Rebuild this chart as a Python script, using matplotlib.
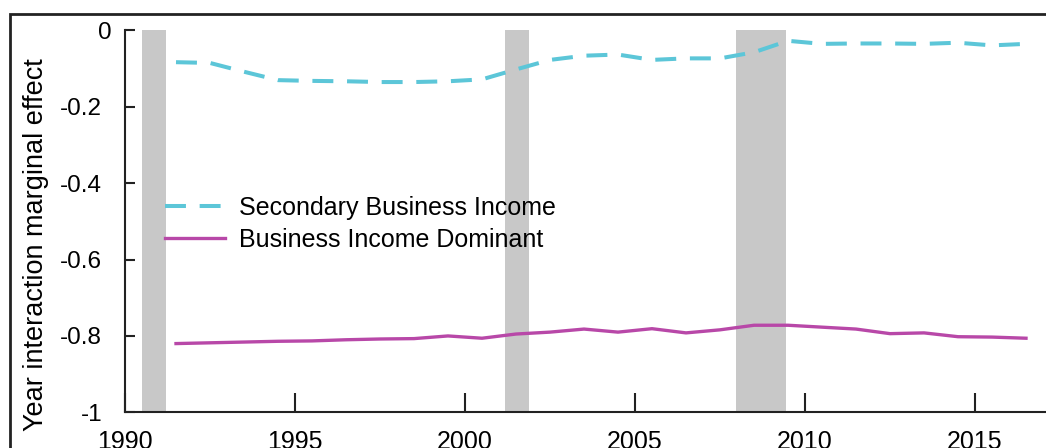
import numpy as np
import matplotlib
matplotlib.use("Agg")
import matplotlib.pyplot as plt
from matplotlib.patches import Rectangle
from matplotlib.transforms import ScaledTranslation

plt.rcParams['font.family'] = ['Liberation Sans', 'DejaVu Sans']

# annual estimates, plotted at mid-year
years = np.array([1991, 1992, 1993, 1994, 1995, 1996, 1997, 1998, 1999,
                  2000, 2001, 2002, 2003, 2004, 2005, 2006, 2007, 2008,
                  2009, 2010, 2011, 2012, 2013, 2014, 2015, 2016])

secondary = [-0.083, -0.085, -0.108, -0.130, -0.132, -0.133, -0.135, -0.135,
             -0.133, -0.128, -0.102, -0.077, -0.066, -0.063, -0.077, -0.073,
             -0.073, -0.057, -0.027, -0.035, -0.034, -0.034, -0.035, -0.032,
             -0.039, -0.035]

dominant = [-0.820, -0.818, -0.816, -0.814, -0.813, -0.810, -0.808, -0.807,
            -0.800, -0.806, -0.795, -0.790, -0.782, -0.790, -0.781, -0.792,
            -0.784, -0.772, -0.772, -0.777, -0.782, -0.794, -0.792, -0.802,
            -0.803, -0.806]

# recessions (fractional years)
rec_start = [1990.5, 2001.17, 2007.96]
rec_end = [1991.22, 2001.88, 2009.45]

yticks = [-1, -0.8, -0.6, -0.4, -0.2, 0]
ytick_labels = ['-1', '-0.8', '-0.6', '-0.4', '-0.2', '0']
xticks = [1990, 1995, 2000, 2005, 2010, 2015]

W, H = 1046, 448
fig = plt.figure(figsize=(W / 100, H / 100), dpi=100)
ax = fig.add_axes([125 / W, 35.7 / H, (W - 125) / W, 381.8 / H])

for s, e in zip(rec_start, rec_end):
    ax.axvspan(s, e, ymin=0, ymax=1, color='#c8c8c8', lw=0, zorder=1)

ax.plot(years + 0.5, secondary, color='#5cc6d8', lw=2.9,
        linestyle=(0, (5.2, 3.4)), label='Secondary Business Income', zorder=3)
ax.plot(years + 0.5, dominant, color='#b848a8', lw=2.4,
        label='Business Income Dominant', zorder=3)

ax.set_xlim(1990, 1990 + (W - 125) / 34)
ax.set_ylim(-1, 0)
ax.set_xticks(xticks)
ax.set_yticks(yticks)
ax.set_yticklabels(ytick_labels)

for side in ['top', 'right']:
    ax.spines[side].set_visible(False)
for side in ['left', 'bottom']:
    ax.spines[side].set_linewidth(1.5)
    ax.spines[side].set_color('#222222')

ax.tick_params(axis='x', direction='in', length=14, width=1.5, color='#222222',
               labelsize=18, pad=13)
ax.tick_params(axis='y', direction='in', length=7, width=1.5, color='#222222',
               labelsize=17.5, pad=16.5)

# the "0" label sits a little further right in the original
lab0 = ax.yaxis.get_major_ticks()[-1].label1
lab0.set_transform(lab0.get_transform() + ScaledTranslation(0.1, 0, fig.dpi_scale_trans))

fig.text(36.5 / W, 1 - 245 / H, 'Year interaction marginal effect',
         rotation=90, ha='center', va='center', fontsize=19.5)

ax.legend(loc='upper left', bbox_to_anchor=(165 / W, 1 - 196 / H),
          bbox_transform=fig.transFigure, frameon=False, fontsize=18,
          borderpad=0, borderaxespad=0, handlelength=2.4,
          handletextpad=0.55, labelspacing=0.33)

# outer frame of the figure panel
fig.add_artist(Rectangle((10 / W, -0.2), 1.2, 1.2 - 14 / H,
                         transform=fig.transFigure, fill=False,
                         lw=2, edgecolor='#222222', clip_on=False))

fig.savefig('out.png', dpi=100)
